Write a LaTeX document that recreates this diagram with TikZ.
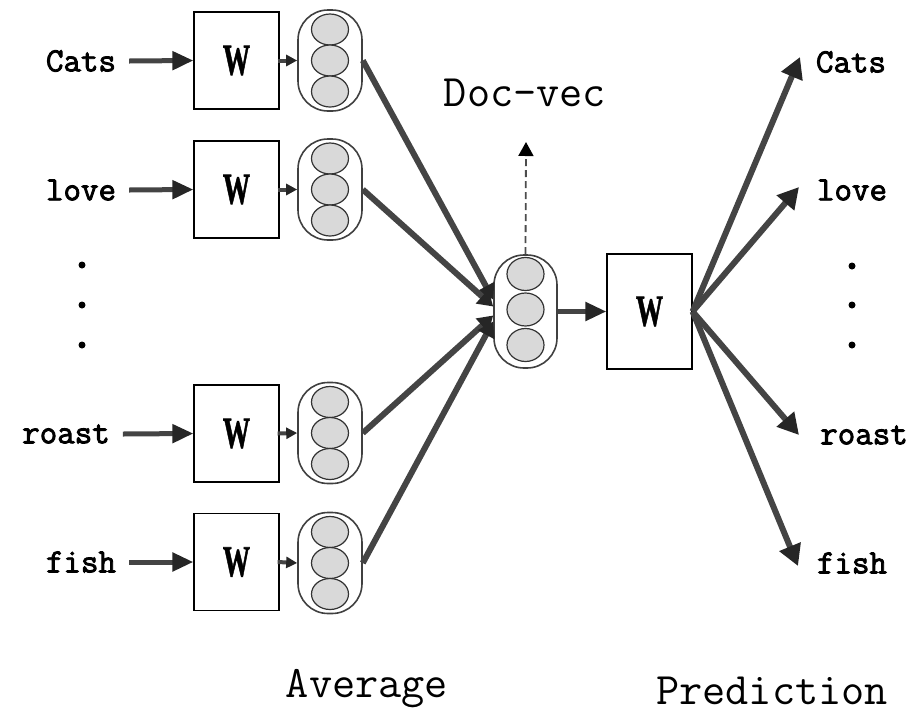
\documentclass[tikz,border=0pt]{standalone}
\usepackage{fontspec}
\usepackage{graphicx}
\usetikzlibrary{arrows.meta,shapes.geometric}
\newfontfamily\monofnt{Latin Modern Mono}
\newfontfamily\monob{Latin Modern Mono}[FakeBold=2.5]
\newfontfamily\wfnt{Liberation Serif}[FakeBold=1.5]
\definecolor{lineg}{HTML}{444444}
\definecolor{ellg}{HTML}{D9D9D9}
\tikzset{
  word/.style={inner sep=0pt, font=\monob\fontsize{34}{34}\selectfont},
  biglabel/.style={inner sep=0pt, font=\monofnt\fontsize{45}{45}\selectfont},
  wbox/.style={draw=black, line width=1.2pt, fill=white, minimum width=85pt, minimum height=97pt, inner sep=0pt,
     font=\wfnt\bfseries\fontsize{44}{44}\selectfont},
  capsule/.style={draw=black!75, line width=1.6pt, fill=white, rounded corners=30pt, minimum width=64pt, minimum height=101pt, inner sep=0pt},
  ell/.style={ellipse, draw=black!80, line width=1.2pt, fill=ellg, minimum width=37pt, minimum height=31pt, inner sep=0pt},
  inarrow/.style={draw=lineg, line width=5pt, -{Triangle[length=21pt,width=18pt,color=black!85]}},
  smallarrow/.style={draw=lineg, line width=4pt, -{Triangle[length=11pt,width=11pt,color=black!85]}},
  convarrow/.style={draw=lineg, line width=6pt, -{Triangle[length=15pt,width=18pt,color=black!85]}},
  outarrow/.style={draw=lineg, line width=6pt, -{Triangle[length=21pt,width=22pt,color=black!85]}},
  dotm/.style={circle, fill=black, minimum size=7pt, inner sep=0pt},
}
\newcommand{\Wtxt}{\scalebox{0.62}[1]{W}}
\begin{document}
\begin{tikzpicture}[x=1pt,y=-1pt]
\useasboundingbox (0,0) rectangle (916,713);
% input words
\node[word] (in1) at (81,61) {Cats};
\node[word] (in2) at (81,190) {love};
\node[word] (in3) at (66,434) {roast};
\node[word] (in4) at (81,562) {fish};
% dots left
\node[dotm] (dl1) at (82,265) {};
\node[dotm] (dl2) at (82,305) {};
\node[dotm] (dl3) at (82,345) {};
% W boxes
\node[wbox] (w1) at (236.5,60.5) {\Wtxt};
\node[wbox] (w2) at (236.5,189.5) {\Wtxt};
\node[wbox] (w3) at (236.5,433.5) {\Wtxt};
\node[wbox] (w4) at (236.5,562) {\Wtxt};
% capsules
\foreach \i/\yy in {1/60.5,2/189.5,3/433,4/563}{
  \node[capsule] (c\i) at (330,\yy) {};
  \node[ell] (c\i a) at (330,\yy-31) {};
  \node[ell] (c\i b) at (330,\yy) {};
  \node[ell] (c\i c) at (330,\yy+31) {};
}
% central capsule
\node[capsule, minimum width=63pt, minimum height=113pt] (cc) at (525.5,311.5) {};
\node[ell, minimum height=33pt] (cca) at (525.5,274) {};
\node[ell, minimum height=33pt] (ccb) at (525.5,309.5) {};
\node[ell, minimum height=33pt] (ccc) at (525.5,345) {};
% right W
\node[wbox, minimum height=115pt] (wr) at (649.5,311.5) {\Wtxt};
% output words
\node[word] (o1) at (851,62) {Cats};
\node[word] (o2) at (852,190) {love};
\node[word] (o3) at (864,435) {roast};
\node[word] (o4) at (852,563) {fish};
% dots right
\node[dotm] (dr1) at (852,266) {};
\node[dotm] (dr2) at (852,305) {};
\node[dotm] (dr3) at (852,345) {};
% labels
\node[biglabel] (docvec) at (525,93) {Doc-vec};
\node[biglabel] (avg) at (367,689) {Average};
\node[biglabel] (pred) at (772,691) {Prediction};
% tip coordinates
\coordinate (dtip) at (526,142);
\coordinate (t1) at (800,57);
\coordinate (t2) at (799,187);
\coordinate (t3) at (799,435);
\coordinate (t4) at (798,566);
% input arrows
\foreach \i in {1,2,3,4}{
  \draw[inarrow] ([xshift=13pt]in\i.east) -- (w\i.west);
  \draw[smallarrow] ([xshift=-2pt]w\i.east) -- (c\i.west);
}
% converging
\draw[convarrow] (c1.east) -- ([yshift=12pt]cc.west);
\draw[convarrow] (c2.east) -- ([yshift=5pt]cc.west);
\draw[convarrow] (c3.east) -- ([yshift=-4pt]cc.west);
\draw[convarrow] (c4.east) -- ([yshift=-10pt]cc.west);
% center to W
\draw[inarrow] (cc.east) -- (wr.west);
% dashed
\draw[draw=black!70, line width=1.8pt, dash pattern=on 7pt off 4pt, -{Triangle[length=14pt,width=15pt,color=black]}] (cc.north) -- (dtip);
% outputs
\draw[outarrow] (wr.east) -- (t1);
\draw[outarrow] (wr.east) -- (t2);
\draw[outarrow] (wr.east) -- (t3);
\draw[outarrow] (wr.east) -- (t4);
\end{tikzpicture}
\end{document}
